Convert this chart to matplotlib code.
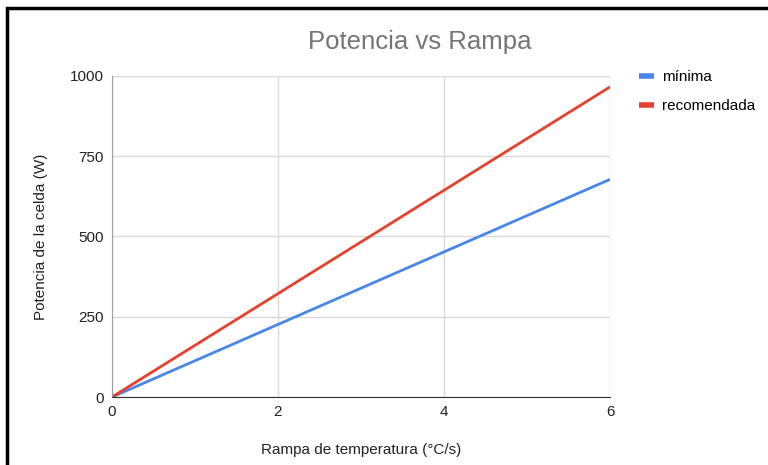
import matplotlib
matplotlib.use('Agg')
import matplotlib.pyplot as plt
from matplotlib.patches import Rectangle

plt.rcParams['font.family'] = ['Liberation Sans', 'DejaVu Sans']

# rampa (°C/s) y potencia (W)
rampa = [0, 1, 2, 3, 4, 5, 6]
minima = [0, 113, 226, 339, 452, 565, 678]
recomendada = [0, 161, 322, 483, 644, 805, 966]
x_ticks = [0, 2, 4, 6]
y_ticks = [0, 250, 500, 750, 1000]

fig = plt.figure(figsize=(7.68, 4.65), dpi=100)
ax = fig.add_axes([0.1458, 0.1462, 0.6485, 0.6904])

ax.plot(rampa, minima, color='#4a86e8', lw=2, label='mínima', solid_capstyle='butt')
ax.plot(rampa, recomendada, color='#e6412f', lw=2, label='recomendada', solid_capstyle='butt')

ax.set_xlim(0, 6)
ax.set_ylim(0, 1000)
ax.set_xticks(x_ticks)
ax.set_yticks(y_ticks)
ax.grid(True, color='#d9d9d9', lw=1)
ax.set_axisbelow(True)
for s in ['top', 'right']:
    ax.spines[s].set_visible(False)
ax.spines['left'].set_color('#9e9e9e')
ax.spines['bottom'].set_color('#333333')
ax.tick_params(length=0, labelsize=11, colors='#222222', pad=6)

fig.text(420 / 768, 1 - 42 / 465, 'Potencia vs Rampa', ha='center', va='center',
         fontsize=18.5, color='#757575')
fig.text(361 / 768, 1 - 450 / 465, 'Rampa de temperatura (°C/s)', ha='center',
         va='center', fontsize=11, color='#222222')
fig.text(41 / 768, 1 - 237 / 465, 'Potencia de la celda (W)', ha='center',
         va='center', rotation=90, fontsize=11, color='#222222')

ax.legend(loc='upper left', bbox_to_anchor=(625 / 768, 1 - 56 / 465),
          bbox_transform=fig.transFigure, frameon=False, fontsize=11,
          handlelength=1.0, handleheight=0.6, labelspacing=1.0, handletextpad=0.5)
for h in ax.get_legend().get_lines():
    h.set_linewidth(4)

# marco negro alrededor
fig.patches.append(Rectangle((7 / 768, -0.05), 1.1, 1 - 8 / 465 + 0.05,
                             transform=fig.transFigure, fill=False,
                             edgecolor='black', lw=2.5))

fig.savefig('out.png', dpi=100)
